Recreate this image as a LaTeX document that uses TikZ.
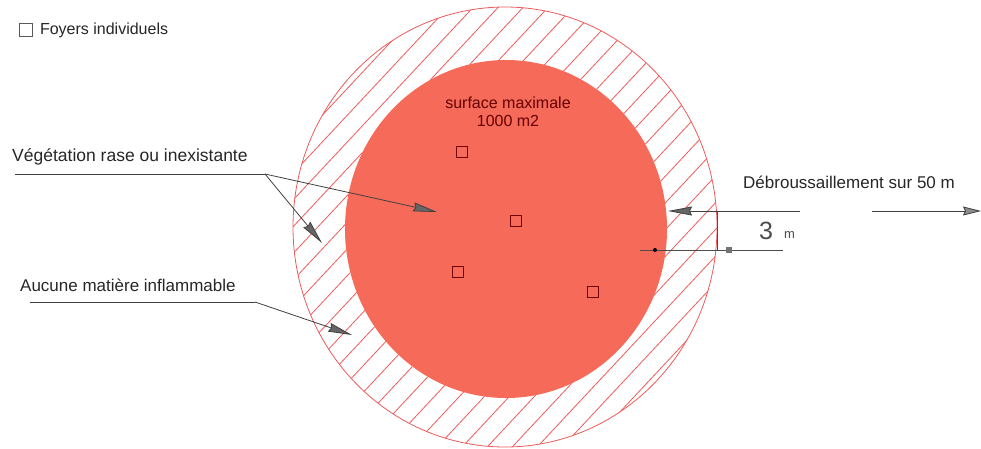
\documentclass[tikz,border=0pt]{standalone}
\usepackage{fontspec}
\setmainfont{Liberation Sans}
\usepackage{tikz}
\usetikzlibrary{arrows.meta,positioning}
\definecolor{discred}{RGB}{246,106,90}
\definecolor{hatchred}{RGB}{238,90,90}
\tikzset{
  lbl/.style={font=\fontsize{17}{19}\selectfont, inner sep=0pt, anchor=base west, text=black!85},
  foyer/.style={draw=red!45!black, minimum size=11pt, inner sep=0pt, line width=0.7pt},
  lead/.style={draw=black!75, line width=0.8pt},
  ptr/.style={lead, -{Stealth[length=24pt, width=9pt, inset=2pt, fill=black!60]}},
  hatch/.style={draw=hatchred, line width=0.8pt},
  dimln/.style={draw=black!70, line width=0.7pt}
}

\begin{document}
\begin{tikzpicture}[x=1pt, y=-1pt]
\useasboundingbox (0,0) rectangle (981,448);
% bande debroussaillee
\begin{scope}[even odd rule]
  \clip (505,227) ellipse [x radius=212pt, y radius=220pt]
        (506,229) ellipse [x radius=161pt, y radius=169pt];
  \foreach \x in {-200,-175,...,1000} \draw[hatch] (\x,460) -- ++(430,-460);
\end{scope}
\draw[hatch] (505,227) ellipse [x radius=212pt, y radius=220pt];
\fill[discred] (506,229) ellipse [x radius=161pt, y radius=169pt];

% legende
\node[foyer, draw=black!65, minimum size=13pt] (leg) at (26,30) {};
\node[lbl, font=\fontsize{16}{18}\selectfont, right=7pt of leg] (legt) {Foyers individuels};

% foyers
\node[lbl, anchor=center, align=center, text=black!60!red, font=\fontsize{16}{18}\selectfont] (surf) at (508,112) {surface maximale\\1000 m2};
\node[foyer] (f1) at (462,152) {};
\node[foyer] (f2) at (516,221) {};
\node[foyer] (f3) at (458,272) {};
\node[foyer] (f4) at (593,292) {};

% vegetation
\node[lbl, font=\fontsize{17.5}{19}\selectfont] (veg) at (12,161) {Végétation rase ou inexistante};
\coordinate (veg0) at (15,174);
\coordinate (vegk) at (265,174);
\coordinate (vegA) at (437,212);
\coordinate (vegB) at (322,243);
\draw[lead] (veg0) -- (vegk);
\draw[ptr] (vegk) -- (vegA);
\draw[ptr] (vegk) -- (vegB);

% matiere
\node[lbl] (auc) at (20,291) {Aucune matière inflammable};
\coordinate (auc0) at (30,302);
\coordinate (auck) at (255,302);
\coordinate (aucA) at (352,335);
\draw[lead] (auc0) -- (auck);
\draw[ptr] (auck) -- (aucA);

% debroussaillement
\node[lbl] (deb) at (743,188) {Débroussaillement sur 50 m};
\coordinate (deb1) at (800,211);
\coordinate (debA) at (668,211);
\coordinate (deb2) at (872,211);
\coordinate (debB) at (981,211);
\draw[ptr] (deb1) -- (debA);
\draw[lead, -{Stealth[length=18pt, width=9pt, inset=2pt, fill=black!45]}] (deb2) -- (debB);

% cote 3 m
\coordinate (d1) at (717,211);
\coordinate (d2) at (717,250);
\coordinate (d3) at (640,250);
\coordinate (d4) at (783,250);
\draw[dimln] (d1) -- (d2);
\draw[dimln] (d3) -- (d4);
\fill[black] (655,250) circle (2pt);
\fill[black!55] (726,247) rectangle (732,253);
\node[lbl, font=\fontsize{25}{27}\selectfont, text=black!70] (trois) at (759,239) {3};
\node[lbl, font=\fontsize{13}{15}\selectfont, text=black!70] (metre) at (784,238) {m};
\end{tikzpicture}
\end{document}
